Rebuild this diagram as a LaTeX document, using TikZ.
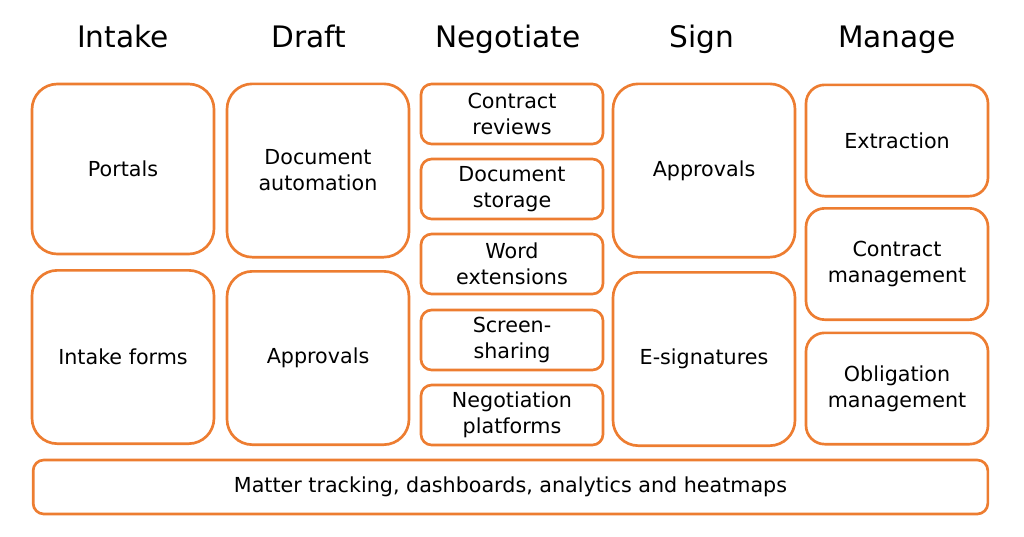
\documentclass[tikz,border=0pt]{standalone}
\usepackage{fontspec}
\setmainfont{DejaVu Sans}
\usepackage{xcolor}
\definecolor{stageorange}{RGB}{237,125,49}

\tikzset{
  stage/.style={anchor=base, font=\fontsize{22.2}{26}\selectfont},
  tool/.style={draw=stageorange, line width=2pt, fill=white, align=center,
    minimum width=136.5pt, inner sep=2pt, font=\fontsize{15.5}{19.5}\selectfont},
  bigtool/.style={tool, rounded corners=19pt, minimum height=130pt},
  smalltool/.style={tool, rounded corners=8pt, minimum height=45pt},
  midtool/.style={tool, rounded corners=14pt, minimum height=83.5pt}
}

\begin{document}
\begin{tikzpicture}[x=0.75pt,y=0.75pt,yscale=-1,xscale=1]

\useasboundingbox (0,0) rectangle (1024,536);

% stage titles
\node [stage] (intake) at (123,47) {Intake};
\node [stage] (draft) at (309,47) {Draft};
\node [stage] (negotiate) at (508,47) {Negotiate};
\node [stage] (sign) at (702,47) {Sign};
\node [stage] (manage) at (897,47) {Manage};

% intake
\node [bigtool, minimum height=127.5pt] (portals) at (123,169) {Portals};
\node [bigtool] (forms) at (123,357) {Intake forms};

% draft
\node [bigtool] (docauto) at (318,170.5) {Document\\automation};
\node [bigtool] (draftappr) at (318,358) {Approvals};

% negotiate
\node [smalltool] (reviews) at (512,114) {Contract\\reviews};
\node [smalltool] (storage) at (512,189) {Document\\storage};
\node [smalltool] (wordext) at (512,264) {Word\\extensions};
\node [smalltool] (sharing) at (512,340) {Screen-\\sharing};
\node [smalltool] (platforms) at (512,415) {Negotiation\\platforms};

% sign
\node [bigtool] (signappr) at (704,170.5) {Approvals};
\node [bigtool] (esign) at (704,359) {E-signatures};

% manage
\node [midtool] (extract) at (897,140.5) {Extraction};
\node [midtool] (contmgmt) at (897,264) {Contract\\management};
\node [midtool] (oblmgmt) at (897,388.5) {Obligation\\management};

% tracking bar
\node [tool, rounded corners=8pt, minimum width=716pt, minimum height=40.5pt] (tracking) at (510.5,487) {Matter tracking, dashboards, analytics and heatmaps};

\end{tikzpicture}
\end{document}
